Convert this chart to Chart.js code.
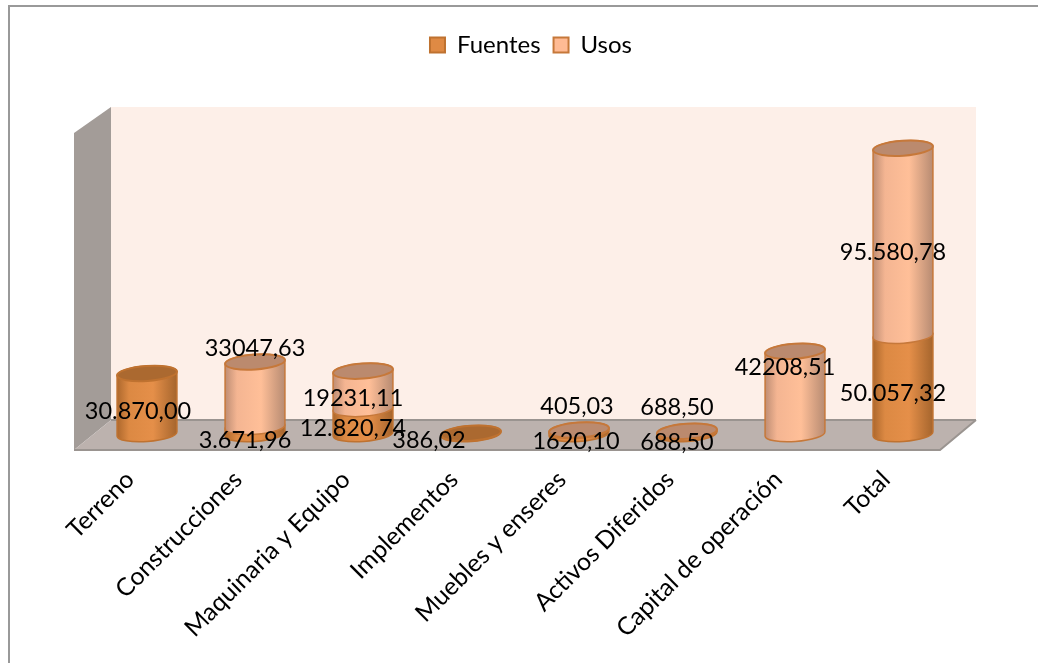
<!DOCTYPE html>
<html>
<head>
<meta charset="utf-8">
<style>
  html, body { margin: 0; padding: 0; background: #fff; }
  #box { width: 1038px; height: 663px; }
</style>
<script src="https://cdn.jsdelivr.net/npm/chart.js@4"></script>
</head>
<body>
<div id="box"><canvas id="chart"></canvas></div>
<script>
const categories = ['Terreno', 'Construcciones', 'Maquinaria y Equipo', 'Implementos', 'Muebles y enseres', 'Activos Diferidos', 'Capital de operación', 'Total'];
const fuentes = [30870.00, 3671.96, 12820.74, 386.02, 1620.10, 688.50, 0, 50057.32];
const usos = [0, 33047.63, 19231.11, 0, 405.03, 688.50, 42208.51, 95580.78];
const fuentesLabels = ['30.870,00', '3.671,96', '12.820,74', '386,02', '1620,10', '688,50', '', '50.057,32'];
const usosLabels = ['', '33047,63', '19231,11', '', '405,03', '688,50', '42208,51', '95.580,78'];

// labels were moved by hand in the original, so they sit off the bar centre
const fuentesLabelShift = [[-9, 8], [-10, 10], [-10, 7], [-42, 7], [-3, 9], [-10, 9], [0, 0], [-10, 9]];
const usosLabelShift = [[0, 0], [0, -46], [-10, 8], [0, 0], [-2, -24], [-10, -25], [-10, -25], [-10, 10]];

const FONT = 'Lato, Carlito, sans-serif';
const looks = [
  { stops: ['#AD682D', '#DC8943', '#E58F49', '#A5652D'], cap: '#AB6930', line: '#BF7230' },
  { stops: ['#BE8D74', '#F4B592', '#FFBF98', '#B78B72'], cap: '#BB8A6E', line: '#C6783A' }
];

function ellipsePath(ctx, x, y, rx, ry, from, to) {
  ctx.ellipse(x, y, rx, ry, -0.07, from, to);
}

function drawCylinders(chart, index) {
  const ctx = chart.ctx;
  const look = looks[index];
  const other = chart.data.datasets[1 - index].data;
  chart.getDatasetMeta(index).data.forEach((bar, i) => {
    if (!chart.data.datasets[index].data[i]) return;
    const rx = bar.width / 2, ry = 7.5;
    const left = bar.x - rx, right = bar.x + rx;
    const grad = ctx.createLinearGradient(left, 0, right, 0);
    [0, 0.2, 0.6, 1].forEach((p, k) => grad.addColorStop(p, look.stops[k]));

    ctx.save();
    ctx.beginPath();
    ellipsePath(ctx, bar.x, bar.base, rx, ry, 0, Math.PI);
    ellipsePath(ctx, bar.x, bar.y, rx, ry, Math.PI, Math.PI * 2);
    ctx.closePath();
    ctx.fillStyle = grad;
    ctx.fill();
    ctx.lineWidth = 1.5;
    ctx.strokeStyle = look.line;
    ctx.stroke();

    // only the topmost piece of a stack shows its lid
    if (index === 1 || !other[i]) {
      ctx.beginPath();
      ellipsePath(ctx, bar.x, bar.y, rx, ry, 0, Math.PI * 2);
      ctx.fillStyle = look.cap;
      ctx.fill();
      ctx.lineWidth = 2;
      ctx.stroke();
    }
    ctx.restore();
  });
}

// bottom piece first so the upper piece can overlap it
const cylinders = {
  id: 'cylinders',
  beforeDatasetsDraw(chart) {
    drawCylinders(chart, 0);
    drawCylinders(chart, 1);
  },
  beforeDatasetDraw() {
    return false;
  }
};

const box3d = {
  id: 'box3d',
  beforeDatasetsDraw(chart) {
    const ctx = chart.ctx;
    const a = chart.chartArea;
    const backL = a.left + 18, backR = a.right + 19, backT = a.top - 13, backB = a.bottom - 14;
    const frontL = a.left - 19, frontR = a.right - 17, frontT = a.top + 13, frontB = a.bottom + 16;

    ctx.save();
    ctx.fillStyle = '#FDEFE8';
    ctx.fillRect(backL, backT, backR - backL, backB - backT);

    ctx.fillStyle = '#A39C98';
    ctx.beginPath();
    ctx.moveTo(frontL, frontT);
    ctx.lineTo(backL, backT);
    ctx.lineTo(backL, backB);
    ctx.lineTo(frontL, frontB);
    ctx.closePath();
    ctx.fill();

    ctx.fillStyle = '#BCB2AE';
    ctx.beginPath();
    ctx.moveTo(frontL, frontB);
    ctx.lineTo(backL, backB);
    ctx.lineTo(backR, backB);
    ctx.lineTo(frontR, frontB);
    ctx.closePath();
    ctx.fill();

    ctx.strokeStyle = '#9A9490';
    ctx.lineWidth = 2;
    ctx.beginPath();
    ctx.moveTo(frontL, frontB);
    ctx.lineTo(frontR, frontB);
    ctx.lineTo(backR, backB);
    ctx.moveTo(backL, backB);
    ctx.lineTo(backR, backB);
    ctx.stroke();
    ctx.restore();
  }
};

const valueLabels = {
  id: 'valueLabels',
  afterDatasetsDraw(chart) {
    const ctx = chart.ctx;
    const sets = [[fuentesLabels, fuentesLabelShift], [usosLabels, usosLabelShift]];
    ctx.save();
    ctx.font = '23.5px ' + FONT;
    ctx.fillStyle = '#000';
    ctx.textAlign = 'center';
    ctx.textBaseline = 'middle';
    sets.forEach(([texts, shifts], d) => {
      chart.getDatasetMeta(d).data.forEach((bar, i) => {
        if (!texts[i]) return;
        ctx.fillText(texts[i], bar.x + shifts[i][0], (bar.y + bar.base) / 2 + shifts[i][1]);
      });
    });
    ctx.restore();
  }
};

// the picture only keeps the top and left edge of the chart border
const frame = {
  id: 'frame',
  beforeDraw(chart) {
    const ctx = chart.ctx;
    ctx.save();
    ctx.strokeStyle = '#999999';
    ctx.lineWidth = 2;
    ctx.beginPath();
    ctx.moveTo(1038, 6);
    ctx.lineTo(9, 6);
    ctx.lineTo(9, 663);
    ctx.stroke();
    ctx.restore();
  }
};

// legend sits high up, push the plot down below it
const legendGap = {
  id: 'legendGap',
  beforeInit(chart) {
    const fit = chart.legend.fit;
    chart.legend.fit = function () {
      fit.call(this);
      this.height += 53;
    };
  },
  afterLayout(chart) {
    chart.legend.left += 12;
  }
};

document.addEventListener('DOMContentLoaded', () => {
  new Chart(document.getElementById('chart'), {
    type: 'bar',
    data: {
      labels: categories,
      datasets: [
        { label: 'Fuentes', data: fuentes, backgroundColor: '#DF8A44', borderColor: '#BF7230', borderWidth: 2, barThickness: 60 },
        { label: 'Usos', data: usos, backgroundColor: '#FFBB94', borderColor: '#C6783A', borderWidth: 2, barThickness: 60 }
      ]
    },
    options: {
      responsive: true,
      maintainAspectRatio: false,
      animation: false,
      layout: { padding: { left: 93, right: 81, top: 20, bottom: 14 } },
      plugins: {
        legend: {
          position: 'top',
          labels: {
            color: '#000',
            font: { family: FONT, size: 24 },
            boxWidth: 15,
            boxHeight: 15,
            padding: 13
          }
        },
        tooltip: { enabled: false }
      },
      scales: {
        x: {
          stacked: true,
          border: { display: false },
          grid: { display: false },
          afterFit(scale) { scale.height = 215; },
          ticks: {
            autoSkip: false,
            minRotation: 45,
            maxRotation: 45,
            padding: 23,
            labelOffset: -17,
            color: '#000',
            font: { family: FONT, size: 24.7 }
          }
        },
        y: {
          stacked: true,
          display: false,
          min: 0,
          max: 160000
        }
      }
    },
    plugins: [frame, box3d, cylinders, valueLabels, legendGap]
  });
});
</script>
</body>
</html>
